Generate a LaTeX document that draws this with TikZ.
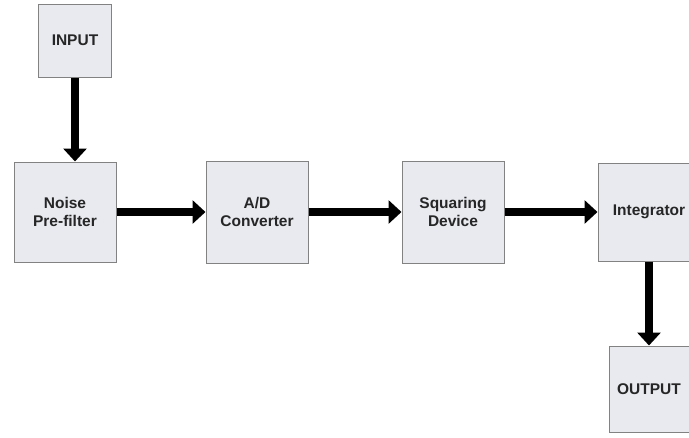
\documentclass[tikz,border=0pt]{standalone}
\usepackage{fontspec}
\setmainfont{Liberation Sans}
\usetikzlibrary{positioning,arrows.meta}
\definecolor{blockfill}{RGB}{232,234,240}
\definecolor{blockedge}{RGB}{130,130,130}

\begin{document}
\begin{tikzpicture}[
    every node/.style={font=\fontsize{15.5}{18}\selectfont\bfseries, text=black!85},
    block/.style={rectangle, draw=blockedge, fill=blockfill, line width=1pt, align=center, inner sep=0pt},
    arr/.style={line width=8pt, -{Triangle[width=23pt,length=13pt]}}]
    \clip (0pt,0pt) rectangle (689pt,-437pt);
    \node[block, minimum width=102pt, minimum height=100pt] (noise) at (65pt,-212pt) {Noise\\Pre-filter};
    \node[block, minimum width=73pt, minimum height=73pt, above=84pt of noise, xshift=10pt] (inp) {INPUT};
    \node[block, minimum width=102pt, minimum height=102pt, right=89pt of noise] (adc) {A/D\\Converter};
    \node[block, minimum width=102pt, minimum height=102pt, right=93pt of adc] (sq) {Squaring\\Device};
    \node[block, minimum width=102pt, minimum height=98pt, right=93pt of sq] (integ) {Integrator};
    \node[block, minimum width=80pt, minimum height=86pt, below=84pt of integ] (out) {OUTPUT};

    \draw[arr] (inp) -- (inp |- noise.north);
    \draw[arr] (noise) -- (adc);
    \draw[arr] (adc) -- (sq);
    \draw[arr] (sq) -- (integ);
    \draw[arr] (integ) -- (out);
\end{tikzpicture}
\end{document}
